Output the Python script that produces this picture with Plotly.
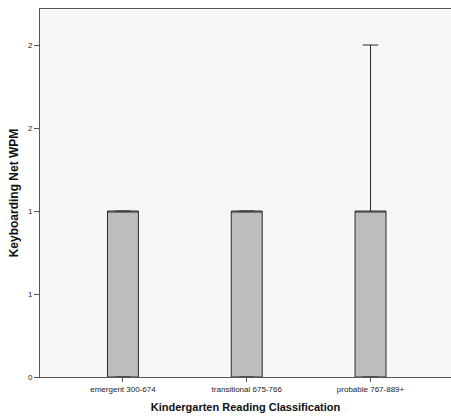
import plotly.graph_objects as go

categories = ["emergent 300-674", "transitional 675-766", "probable 767-889+"]
q1 = [0, 0, 0]
median = [1, 1, 1]
q3 = [1, 1, 1]
lower_fence = [0, 0, 0]
upper_fence = [1, 1, 2]
y_tickvals = [0, 0.5, 1, 1.5, 2]
y_ticktext = ["0", "1", "1", "2", "2"]

fig = go.Figure()
fig.add_trace(go.Box(
    x=categories,
    q1=q1, median=median, q3=q3,
    lowerfence=lower_fence, upperfence=upper_fence,
    width=0.25,
    whiskerwidth=0.5,
    fillcolor="#bdbdbd",
    line=dict(color="#2a2a2a", width=1),
    boxpoints=False,
    showlegend=False,
    hoverinfo="skip",
))

font_family = "Liberation Sans, Arial, sans-serif"
fig.update_layout(
    width=451, height=420,
    margin=dict(l=40, r=0, t=9, b=43),
    paper_bgcolor="white",
    plot_bgcolor="#f7f7f7",
    font=dict(family=font_family, size=8, color="#222"),
    xaxis=dict(
        type="category",
        range=[-0.67, 2.65],
        showgrid=False, zeroline=False,
        showline=True, linecolor="#555", linewidth=1, mirror=True,
        ticks="outside", ticklen=4, tickcolor="#555",
        tickfont=dict(size=8, color="#222"),
        title=dict(text="Kindergarten Reading Classification",
                   font=dict(size=11, family=font_family, weight="bold", color="#111"),
                   standoff=10),
    ),
    yaxis=dict(
        range=[0, 2.217],
        tickvals=y_tickvals, ticktext=y_ticktext,
        showgrid=False, zeroline=False,
        showline=True, linecolor="#555", linewidth=1,
        ticks="outside", ticklen=5, tickcolor="#555",
        tickfont=dict(size=8, color="#222"),
        title=dict(text="Keyboarding Net WPM",
                   font=dict(size=12, family=font_family, weight="bold", color="#111"),
                   standoff=6),
    ),
)

fig.write_html("out.html")
